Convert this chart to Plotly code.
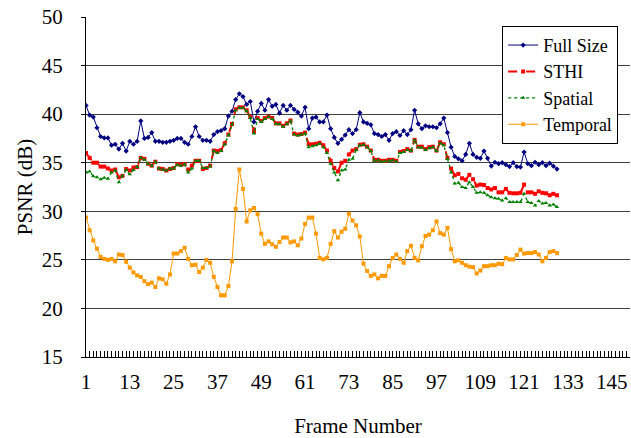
import plotly.graph_objects as go

# Frame indices and per-frame PSNR (dB) for each method
frames = list(range(1, 131))

full_size = [
    40.9, 39.9, 39.7, 38.6, 37.7, 37.55, 37.55, 36.8, 36.9, 36.4,
    37.0, 36.2, 37.2, 36.9, 37.2, 39.3, 37.5, 37.6, 38.1, 37.2,
    37.2, 37.1, 37.1, 37.2, 37.3, 37.5, 37.5, 37.1, 36.9, 37.7,
    38.7, 37.7, 37.3, 37.3, 37.2, 37.9, 38.2, 38.3, 38.5, 39.8,
    40.3, 41.5, 42.1, 41.8, 41.0, 41.3, 39.2, 40.3, 41.1, 40.4,
    41.5, 40.8, 41.0, 40.1, 40.9, 40.4, 40.9, 40.5, 40.2, 39.8,
    40.7, 38.5, 39.6, 39.7, 39.2, 39.2, 39.9, 38.5, 37.6, 37.0,
    37.4, 37.85, 38.4, 38.0, 38.4, 40.15, 39.2, 39.05, 38.9, 38.0,
    37.9, 37.7, 37.9, 37.3, 38.0, 38.2, 37.8, 38.3, 37.9, 38.4,
    40.4, 39.0, 38.5, 38.8, 38.7, 38.7, 38.6, 39.0, 39.6, 38.1,
    36.6, 35.65, 35.4, 35.2, 35.85, 37.0, 35.85, 35.55, 35.45, 36.2,
    35.45, 34.65, 35.05, 34.9, 35.0, 34.8, 34.6, 35.0, 34.6, 34.55,
    36.1, 34.9, 34.7, 35.05, 34.8, 35.0, 34.7, 34.95, 34.65, 34.35,
]

sthi = [
    36.0, 35.5, 35.0, 35.0, 34.6, 34.6, 34.4, 34.2, 34.3, 33.5,
    33.65, 34.35, 34.2, 34.5, 34.55, 35.5, 35.4, 34.9, 34.7, 35.1,
    34.4, 34.35, 34.2, 34.35, 34.45, 34.85, 34.8, 34.85, 34.3, 34.7,
    35.2, 35.2, 34.35, 34.45, 34.7, 36.25, 36.2, 36.3, 37.0, 37.9,
    39.0, 40.5, 40.7, 40.7, 40.4, 39.7, 38.2, 39.6, 39.3, 39.6,
    39.75, 39.6, 39.05, 39.05, 38.8, 39.05, 39.35, 38.0, 37.9, 37.95,
    38.1, 36.9, 36.9, 36.95, 37.05, 36.8, 36.25, 35.2, 34.45, 34.1,
    35.0, 35.2, 35.85, 36.25, 36.4, 36.85, 36.9, 36.65, 36.25, 35.3,
    35.3, 35.2, 35.2, 35.3, 35.3, 35.2, 36.1, 36.2, 36.4, 36.25,
    37.35, 36.65, 36.65, 36.4, 36.6, 36.65, 36.25, 37.1, 36.9, 35.5,
    34.4, 33.7, 33.85, 33.4, 33.25, 33.75, 33.3, 32.65, 32.75, 32.7,
    32.4, 32.25, 32.4, 31.95, 31.95, 32.3, 31.9, 31.85, 31.85, 31.9,
    32.75, 31.95, 31.95, 31.8, 32.05, 31.9, 31.85, 31.65, 31.8, 31.65,
]

spatial = [
    34.0, 34.1, 33.6, 33.5, 33.3, 33.45, 33.35, 34.0, 34.2, 33.0,
    33.65, 34.25, 33.8, 34.25, 34.55, 35.5, 35.3, 34.9, 34.7, 35.1,
    34.4, 34.3, 34.2, 34.4, 34.4, 34.8, 34.7, 34.85, 34.0, 34.4,
    35.2, 35.2, 34.45, 34.45, 34.6, 36.2, 36.0, 36.2, 36.9, 37.8,
    38.9, 40.4, 40.65, 40.65, 40.3, 39.6, 38.0, 39.5, 39.2, 39.5,
    39.7, 39.5, 39.0, 38.95, 38.7, 38.95, 39.3, 37.9, 37.8, 37.9,
    38.0, 36.6, 36.7, 36.8, 36.95, 36.6, 36.0, 34.9, 34.0, 33.2,
    34.2, 34.3, 35.3, 35.4, 36.3, 36.8, 36.85, 36.6, 36.2, 35.2,
    35.25, 35.1, 35.15, 35.2, 35.25, 35.1, 36.0, 36.1, 36.3, 36.2,
    37.3, 36.6, 36.55, 36.3, 36.5, 36.6, 36.2, 37.0, 36.8, 35.4,
    34.0, 32.85, 32.95, 32.5, 32.4, 33.0, 32.5, 31.9, 31.95, 31.9,
    31.65, 31.45, 31.35, 31.3, 31.1, 31.35, 30.95, 30.95, 30.95, 30.95,
    31.8, 30.95, 30.85, 30.6, 31.05, 30.8, 30.85, 30.6, 30.7, 30.45,
]

temporal = [
    29.35, 28.05, 27.0, 26.15, 25.3, 25.1, 25.0, 25.1, 24.85, 25.55,
    25.5, 24.8, 24.2, 23.7, 23.4, 23.25, 22.8, 22.5, 22.65, 22.2,
    23.1, 23.0, 22.55, 23.5, 25.65, 25.65, 25.9, 26.25, 25.1, 24.45,
    24.5, 23.75, 24.2, 25.0, 24.7, 23.25, 22.2, 21.35, 21.35, 22.3,
    24.85, 30.25, 34.3, 32.3, 28.95, 30.1, 30.35, 29.7, 27.7, 26.65,
    26.9, 26.6, 26.35, 26.85, 27.3, 27.3, 26.8, 26.9, 26.5, 27.2,
    28.7, 29.35, 29.35, 27.7, 25.2, 25.05, 25.2, 26.65, 27.95, 27.3,
    27.9, 28.2, 29.75, 29.05, 28.55, 27.4, 24.6, 23.85, 23.35, 23.5,
    23.1, 23.35, 23.35, 24.35, 25.2, 25.55, 25.1, 24.7, 25.9, 26.45,
    25.2, 24.95, 26.4, 27.45, 27.6, 28.05, 28.95, 27.75, 27.6, 28.3,
    26.1, 24.85, 24.95, 24.7, 24.45, 24.3, 24.25, 23.6, 23.9, 24.35,
    24.35, 24.45, 24.45, 24.6, 24.55, 25.2, 25.05, 25.05, 25.5, 26.05,
    25.65, 25.7, 25.7, 25.8, 25.55, 24.85, 25.2, 25.8, 25.9, 25.7,
]

x_tick_values = list(range(1, 150, 12))
y_tick_values = [15, 20, 25, 30, 35, 40, 45, 50]

FONT = "Liberation Serif, Times New Roman, serif"

fig = go.Figure()
fig.add_trace(go.Scatter(
    x=frames, y=full_size, name="Full Size", mode="lines+markers",
    line=dict(color="#000080", width=1),
    marker=dict(symbol="diamond", size=4, color="#000080"),
))
fig.add_trace(go.Scatter(
    x=frames, y=sthi, name="STHI", mode="lines+markers",
    line=dict(color="#FF0000", width=2, dash="dash"),
    marker=dict(symbol="square", size=4, color="#FF0000"),
))
fig.add_trace(go.Scatter(
    x=frames, y=spatial, name="Spatial", mode="lines+markers",
    line=dict(color="#008000", width=1.3, dash="dot"),
    marker=dict(symbol="triangle-up", size=4, color="#008000"),
))
fig.add_trace(go.Scatter(
    x=frames, y=temporal, name="Temporal", mode="lines+markers",
    line=dict(color="#FF9900", width=1),
    marker=dict(symbol="square", size=4, color="#FF9900"),
))

fig.update_layout(
    width=631, height=438,
    margin=dict(l=86, r=1, t=17, b=81),
    paper_bgcolor="white", plot_bgcolor="white",
    font=dict(family=FONT, size=21, color="black"),
    showlegend=True,
    legend=dict(
        x=0.765, y=0.974, xanchor="left", yanchor="top",
        bgcolor="white", bordercolor="black", borderwidth=1,
        font=dict(family=FONT, size=18, color="black"),
        itemwidth=30, tracegroupgap=0,
    ),
    xaxis=dict(
        range=[1, 150], tickmode="array", tickvals=x_tick_values,
        showgrid=False, zeroline=False,
        showline=True, linecolor="black", linewidth=1,
        ticks="inside", ticklen=6, tickcolor="black", tickwidth=1,
        minor=dict(dtick=1, tick0=1, ticks="inside", ticklen=6,
                   tickcolor="black", tickwidth=1, showgrid=False),
        ticklabelstandoff=6,
        title=dict(text="Frame Number", standoff=27,
                   font=dict(family=FONT, size=21)),
        tickfont=dict(family=FONT, size=21),
    ),
    yaxis=dict(
        range=[15, 50], tickmode="array", tickvals=y_tick_values,
        showgrid=True, gridcolor="#404040", gridwidth=1, zeroline=False,
        showline=True, linecolor="black", linewidth=1,
        ticks="outside", ticklen=4, tickcolor="black",
        ticklabelstandoff=14,
        title=dict(text="PSNR (dB)", standoff=3,
                   font=dict(family=FONT, size=21)),
        tickfont=dict(family=FONT, size=21),
    ),
)

fig.write_html("out.html")
